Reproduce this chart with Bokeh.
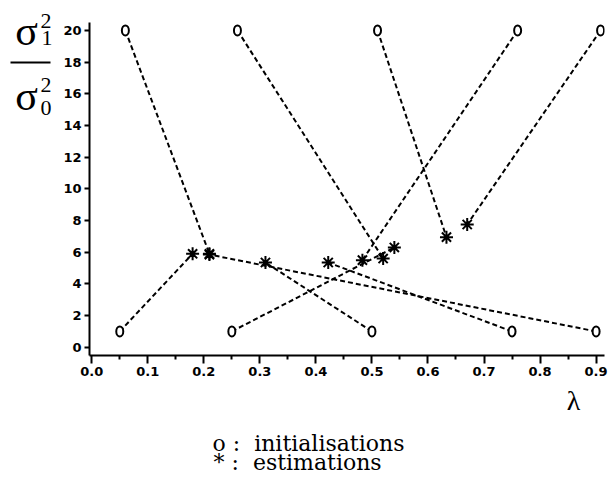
from bokeh.plotting import figure
from bokeh.layouts import row, column
from bokeh.models import Label, Range1d, FixedTicker, PrintfTickFormatter, BoxAnnotation
from bokeh.embed import file_html
from bokeh.resources import INLINE

# ---- data ----
init_lambda = [0.06, 0.05, 0.26, 0.25, 0.51, 0.50, 0.76, 0.75, 0.908, 0.90]
init_ratio = [20, 1, 20, 1, 20, 1, 20, 1, 20, 1]
est_lambda = [0.21, 0.18, 0.52, 0.54, 0.633, 0.31, 0.483, 0.422, 0.67, 0.21]
est_ratio = [5.9, 5.9, 5.6, 6.3, 6.95, 5.35, 5.5, 5.35, 7.75, 5.85]
x_ticks = [0.0, 0.1, 0.2, 0.3, 0.4, 0.5, 0.6, 0.7, 0.8, 0.9]
y_ticks = [0, 2, 4, 6, 8, 10, 12, 14, 16, 18, 20]
legend_lines = ["o :\u00a0 initialisations", "* :\u00a0 estimations"]

XR = (-0.004, 0.915)
YR = (-0.52, 20.5)

LEFT_W = 55       # width of the strip holding the y-label
TOP_H = 382       # height of the chart figure
TOTAL_W, TOTAL_H = 608, 498

# ---------- main chart ----------
p = figure(width=TOTAL_W - LEFT_W, height=TOP_H, x_range=Range1d(*XR), y_range=Range1d(*YR),
           output_backend="svg", toolbar_location=None, title=None,
           min_border_left=89 - LEFT_W, min_border_right=4, min_border_top=22,
           min_border_bottom=TOP_H - 355)
p.outline_line_color = None
p.xgrid.visible = False
p.ygrid.visible = False
p.background_fill_color = "white"
p.border_fill_color = "white"

xa = p.xaxis[0]
xa.ticker = FixedTicker(ticks=x_ticks, minor_ticks=[t + 0.05 for t in x_ticks[:-1]])
xa.formatter = PrintfTickFormatter(format="%.1f")
ya = p.yaxis[0]
ya.ticker = FixedTicker(ticks=y_ticks)
for ax in (xa, ya):
    ax.axis_line_width = 2
    ax.axis_line_color = "black"
    ax.major_tick_line_width = 2
    ax.major_tick_line_color = "black"
    ax.major_tick_in = 0
    ax.minor_tick_in = 0
    ax.major_label_text_font = "DejaVu Sans"
    ax.major_label_text_font_style = "bold"
    ax.major_label_text_font_size = "13px"
    ax.major_label_text_color = "black"
xa.major_tick_out = 8
xa.minor_tick_out = 4
xa.minor_tick_line_width = 2
xa.minor_tick_line_color = "black"
xa.major_label_standoff = 3
ya.major_tick_out = 5
ya.minor_tick_line_color = None
ya.major_label_standoff = 3

p.segment(x0=init_lambda, y0=init_ratio, x1=est_lambda, y1=est_ratio,
          line_color="black", line_width=2, line_dash="5 3")
p.ellipse(x=init_lambda, y=init_ratio, width=7, height=10,
          width_units="screen", height_units="screen",
          fill_color="white", line_color="black", line_width=2)
p.scatter(x=est_lambda, y=est_ratio, marker="asterisk", size=13,
          line_color="black", line_width=2)

serif = "Liberation Serif"

def text_panel(w, h):
    f = figure(width=w, height=h, x_range=Range1d(0, w), y_range=Range1d(0, h),
               output_backend="svg", toolbar_location=None, title=None,
               x_axis_location=None, y_axis_location=None,
               min_border_left=0, min_border_right=0, min_border_top=0, min_border_bottom=0)
    f.outline_line_color = None
    f.xgrid.visible = False
    f.ygrid.visible = False
    f.background_fill_color = "white"
    f.border_fill_color = "white"
    return f

def lab(f, text, px, baseline, size, align="left", font=serif):
    # the label anchor sits about a third of an em below the glyph baseline
    f.add_layout(Label(x=px, y=baseline - 0.34 * size, x_units="canvas", y_units="canvas",
                       text=text, text_font=font, text_font_size=f"{size}px",
                       text_align=align, text_baseline="alphabetic",
                       text_color="black"))

# ---------- left strip (full height): sigma_1^2 / sigma_0^2 ----------
lf = text_panel(LEFT_W, TOTAL_H)
lab(lf, "σ", 26, 45, 42, align="center")
lab(lf, "2", 40, 28, 22)
lab(lf, "1", 41, 45, 22)
lf.add_layout(BoxAnnotation(left=10, right=50, top=61, bottom=63,
                            left_units="canvas", right_units="canvas",
                            top_units="canvas", bottom_units="canvas",
                            fill_color="black", fill_alpha=1, line_color=None))
lab(lf, "σ", 26, 110, 42, align="center")
lab(lf, "2", 40, 92, 22)
lab(lf, "0", 40, 115, 22)

# ---------- bottom strip: lambda and caption ----------
bf = text_panel(TOTAL_W - LEFT_W, TOTAL_H - TOP_H)
lab(bf, "λ", 573 - LEFT_W, 410 - TOP_H, 28, align="center")
lab(bf, legend_lines[0], 212 - LEFT_W, 450 - TOP_H, 22, font="DejaVu Serif")
lab(bf, legend_lines[1], 213 - LEFT_W, 469 - TOP_H, 22, font="DejaVu Serif")

layout = row(lf, column(p, bf, spacing=0), spacing=0)

open("out.html", "w").write(file_html(layout, INLINE))
